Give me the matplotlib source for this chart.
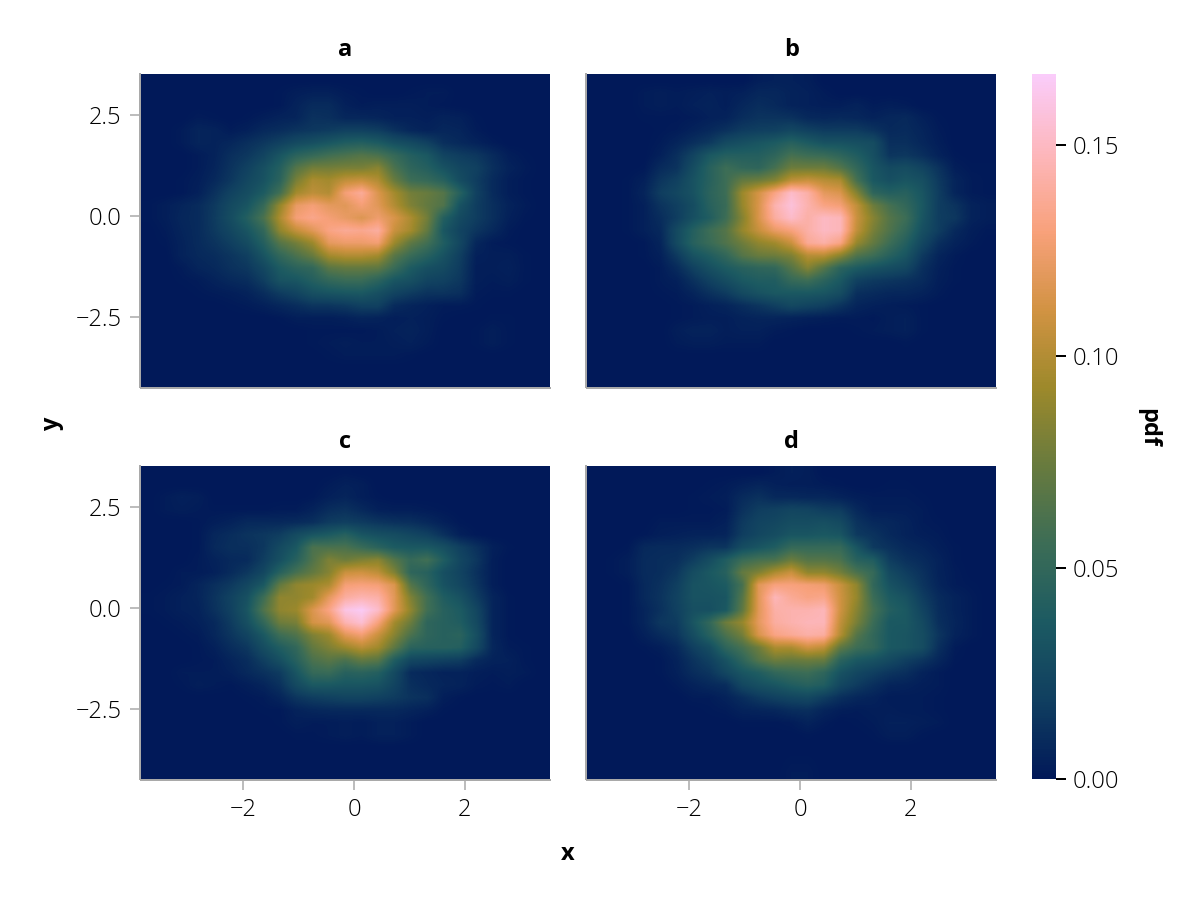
import matplotlib
matplotlib.use("Agg")
import matplotlib.pyplot as plt
import numpy as np
from matplotlib.colors import LinearSegmentedColormap, Normalize
from matplotlib.cm import ScalarMappable

# density, in units of 0.001, top row first
panel_a = [
    [0,0,0,0,0,0,0,0,0,0,0,0,0,0,0,0,0,0,0,0,0,0,0,0,0],
    [0,0,0,0,0,0,0,0,1,3,4,4,2,1,0,0,1,2,2,0,0,0,0,0,0],
    [0,0,0,0,0,0,0,0,1,5,9,9,4,2,3,3,3,2,1,0,0,0,0,0,0],
    [0,0,0,2,1,0,1,3,5,6,12,11,7,7,6,4,4,3,5,4,1,0,0,0,0],
    [0,0,2,6,5,2,4,8,10,13,15,17,20,20,18,12,7,5,7,6,2,0,0,0,0],
    [0,0,2,6,5,7,11,15,20,26,30,35,40,42,38,30,26,20,11,8,5,2,0,0,0],
    [0,0,0,2,5,11,15,22,34,46,52,58,62,66,62,52,42,36,22,18,15,9,3,1,0],
    [0,0,0,2,6,13,20,30,42,66,78,78,80,80,86,62,48,42,32,24,20,11,5,2,0],
    [0,0,1,3,8,15,24,32,46,80,98,95,105,108,100,74,56,52,44,28,18,9,3,1,0],
    [0,0,1,4,12,21,28,38,58,95,104,100,128,138,115,95,78,74,66,44,20,9,3,1,0],
    [1,3,6,9,16,26,34,52,90,122,128,120,118,128,118,100,82,72,64,32,18,11,5,2,0],
    [1,3,7,9,17,28,42,62,98,128,134,128,122,116,125,114,98,78,42,26,18,11,4,1,0],
    [0,2,6,9,16,24,34,50,88,106,118,132,137,135,140,108,95,72,35,22,14,8,2,0,0],
    [0,1,5,9,13,19,27,42,66,78,92,120,124,124,127,92,70,58,40,24,7,2,1,0,0],
    [0,0,5,8,10,14,19,33,50,62,74,95,100,100,95,68,54,44,32,19,4,3,3,1,0],
    [0,0,2,6,8,12,15,24,38,46,50,68,72,72,70,54,38,30,26,17,3,3,4,1,0],
    [0,0,1,2,5,8,10,18,32,34,42,50,54,54,46,34,30,22,20,15,3,2,3,1,0],
    [0,0,0,1,2,3,5,10,17,22,30,33,35,36,30,22,17,13,13,11,2,1,1,0,0],
    [0,0,0,0,0,1,2,4,7,10,14,14,16,20,20,9,6,4,2,2,1,0,0,0,0],
    [0,0,0,0,0,0,0,0,1,3,3,3,4,6,5,3,4,3,1,0,0,1,1,0,0],
    [0,0,0,0,0,0,0,0,0,0,1,1,1,1,2,4,5,3,0,0,1,3,1,0,0],
    [0,0,0,0,0,0,0,0,0,0,1,2,3,2,2,3,4,2,0,0,1,3,1,0,0],
    [0,0,0,0,0,0,0,0,0,0,0,1,2,2,2,2,1,0,0,0,0,0,0,0,0],
    [0,0,0,0,0,0,0,0,0,0,0,0,0,0,0,0,0,0,0,0,0,0,0,0,0],
    [0,0,0,0,0,0,0,0,0,0,0,0,0,0,0,0,0,0,0,0,0,0,0,0,0],
]

panel_b = [
    [0,0,0,0,0,0,0,0,0,0,3,4,4,3,0,0,0,0,0,0,0,0,0,0,0],
    [0,0,0,2,3,2,3,4,3,4,7,7,5,4,2,0,0,0,0,0,0,0,0,0,0],
    [0,0,0,2,3,2,4,5,3,7,10,8,5,4,3,3,5,2,3,2,0,0,0,0,0],
    [0,0,0,1,1,1,2,4,5,10,13,13,12,8,7,8,7,5,7,8,4,1,0,0,0],
    [0,0,0,0,1,2,5,8,12,17,19,20,24,20,17,17,17,13,8,9,6,2,0,0,0],
    [0,0,0,0,2,6,11,16,26,30,34,38,44,38,32,32,30,28,11,11,7,3,0,0,0],
    [0,0,0,0,4,11,22,36,42,42,42,48,60,56,54,48,40,30,14,15,11,5,1,0,0],
    [0,0,0,1,9,13,28,44,56,50,48,60,76,76,76,66,50,34,26,28,22,13,3,1,1],
    [0,0,1,4,14,20,32,44,56,72,76,84,104,108,102,98,60,36,30,34,30,16,6,2,1],
    [0,0,1,6,18,24,32,46,56,92,112,132,152,142,120,115,84,48,42,44,34,18,6,2,1],
    [0,0,1,4,13,19,28,44,54,90,114,144,157,144,132,128,105,76,60,50,36,18,13,5,3],
    [0,0,1,4,10,18,30,40,56,84,114,140,152,142,150,147,108,85,66,56,34,18,15,5,3],
    [0,0,1,4,8,26,42,56,66,90,107,122,130,142,150,147,105,80,64,50,30,18,8,3,1],
    [0,0,0,1,6,26,44,54,64,76,88,94,108,137,142,132,90,72,56,42,24,11,5,2,0],
    [0,0,0,1,4,16,32,40,50,66,74,76,82,102,102,86,64,56,44,34,16,6,2,0,0],
    [0,0,0,0,2,9,20,30,38,44,48,50,66,84,66,46,38,32,28,24,11,4,1,0,0],
    [0,0,0,0,2,4,12,20,28,36,40,40,52,56,46,36,20,16,14,12,9,3,1,0,0],
    [0,0,0,0,1,2,6,12,17,26,32,36,36,36,34,28,11,9,7,7,5,2,0,0,0],
    [0,0,0,0,0,1,2,4,6,10,14,19,25,22,19,13,6,4,3,2,1,0,0,0,0],
    [0,0,0,0,0,1,2,3,3,5,6,6,5,4,3,2,2,1,3,4,1,0,0,0,0],
    [0,0,0,0,0,3,5,5,3,4,4,2,1,0,0,0,1,2,3,4,1,0,0,0,0],
    [0,0,0,0,0,2,3,3,2,2,2,0,0,0,0,0,0,0,0,1,0,0,0,0,0],
    [0,0,0,0,0,0,0,0,0,0,0,0,0,0,0,0,0,0,0,0,0,0,0,0,0],
    [0,0,0,0,0,0,0,0,0,0,0,0,0,0,0,0,0,0,0,0,0,0,0,0,0],
    [0,0,0,0,0,0,0,0,0,0,0,0,0,0,0,0,0,0,0,0,0,0,0,0,0],
]

panel_c = [
    [0,0,0,0,0,0,0,0,0,0,0,0,1,0,0,0,0,0,0,0,0,0,0,0,0],
    [0,0,0,0,0,0,0,0,0,0,0,2,4,3,0,0,0,0,0,0,0,0,0,0,0],
    [0,2,4,3,0,0,0,0,0,0,1,4,6,3,1,0,0,0,0,0,0,0,0,0,0],
    [0,2,3,2,1,1,1,1,2,2,5,10,12,8,4,3,3,2,1,0,0,0,0,0,0],
    [0,0,0,1,3,5,8,8,8,9,11,17,19,17,14,12,11,8,4,1,0,0,0,0,0],
    [0,0,0,1,7,10,13,15,18,27,34,38,44,34,30,28,24,20,12,4,1,0,0,0,0],
    [0,0,0,1,8,11,11,15,26,36,62,62,62,54,46,38,36,36,30,20,12,4,1,0,0],
    [0,0,0,2,5,8,9,18,30,44,64,82,76,82,86,66,52,58,40,24,15,3,0,0,0],
    [0,0,2,2,4,9,15,24,44,60,72,84,108,110,104,82,48,44,30,22,12,3,0,0,0],
    [0,1,2,6,11,16,24,36,72,88,92,98,128,130,128,115,66,48,32,24,14,3,0,0,0],
    [1,2,4,6,13,21,31,56,88,88,94,120,140,145,142,118,82,58,40,32,18,6,1,0,0],
    [1,2,4,5,12,20,34,64,88,92,115,132,160,165,152,118,88,58,44,38,24,6,1,0,0],
    [0,1,2,4,8,17,30,50,76,80,112,118,145,155,130,95,75,48,44,40,26,6,1,0,0],
    [0,0,1,2,7,14,22,36,56,64,82,92,118,127,108,85,62,48,44,46,30,6,1,0,0],
    [0,0,0,1,4,10,15,28,40,50,72,82,92,102,94,70,46,44,44,42,26,7,2,1,0],
    [0,0,0,1,2,6,10,19,30,44,62,68,62,72,68,40,24,22,20,18,9,5,4,1,0],
    [0,0,2,2,2,4,8,12,17,34,52,54,44,46,42,26,9,7,5,5,3,2,3,2,0],
    [0,0,1,3,2,1,3,6,12,26,36,36,34,34,32,22,11,8,6,5,2,1,2,0,0],
    [0,0,0,0,0,0,1,2,6,14,18,20,22,22,20,17,13,11,3,1,0,0,0,0,0],
    [0,0,0,0,0,0,0,1,1,5,7,8,8,8,8,8,6,4,1,0,0,0,0,0,0],
    [0,0,0,0,0,0,0,0,1,3,2,2,3,2,4,4,2,0,0,0,0,0,0,0,0],
    [0,0,0,0,0,0,0,0,0,1,1,2,3,2,4,4,2,0,0,0,0,0,0,0,0],
    [0,0,0,0,0,0,0,0,0,0,0,0,0,0,0,0,0,0,0,0,0,0,0,0,0],
    [0,0,0,0,0,0,0,0,0,0,0,0,0,0,0,0,0,0,0,0,0,0,0,0,0],
    [0,0,0,0,0,0,0,0,0,0,0,0,0,0,0,0,0,0,0,0,0,0,0,0,0],
]

panel_d = [
    [0,0,0,0,0,0,0,0,0,0,0,2,4,3,0,0,0,0,0,0,0,0,0,0,0],
    [0,0,0,0,0,0,0,1,2,4,6,4,3,3,2,1,0,0,1,1,0,0,0,0,0],
    [0,0,0,0,0,0,1,2,3,9,12,8,8,7,7,5,3,2,2,2,1,0,0,0,0],
    [0,0,0,0,0,0,1,1,2,12,18,20,23,22,18,17,8,3,3,3,2,0,0,0,0],
    [0,0,0,0,2,2,2,2,4,16,22,24,28,28,30,26,13,8,7,5,2,1,0,0,0],
    [0,0,0,1,3,4,5,5,6,18,24,28,34,34,36,34,16,13,8,5,3,2,0,0,0],
    [0,0,1,8,9,9,11,14,14,28,34,40,52,52,52,52,34,16,12,8,6,3,1,0,0],
    [0,1,3,9,10,11,18,28,40,54,60,62,75,66,66,62,44,40,18,12,9,5,1,0,0],
    [0,1,3,9,10,15,28,36,44,72,82,98,108,88,88,78,62,52,26,18,12,5,2,0,0],
    [0,0,1,8,12,19,32,34,38,60,118,130,130,128,125,108,88,50,32,24,14,6,2,1,0],
    [0,0,1,8,13,21,32,32,34,66,118,147,137,132,134,110,90,55,38,32,18,9,5,2,0],
    [0,0,1,6,12,20,30,30,36,70,118,142,144,144,147,110,85,60,42,36,22,10,5,2,0],
    [0,0,1,6,15,17,34,50,76,90,120,140,144,147,147,105,80,55,36,36,26,11,6,2,0],
    [0,0,0,4,9,14,28,44,62,78,114,132,137,142,140,100,66,50,36,34,28,14,5,2,0],
    [0,0,0,1,3,8,19,28,48,60,76,98,98,110,104,70,56,50,36,34,28,11,2,0,0],
    [0,0,0,0,1,5,13,20,32,48,66,76,74,76,74,46,36,32,26,19,14,7,1,0,0],
    [0,0,0,0,1,4,10,14,24,34,40,50,54,56,48,32,24,19,14,11,5,2,0,0,0],
    [0,0,0,0,0,2,5,8,10,24,30,34,40,44,40,24,17,11,6,5,3,2,0,0,0],
    [0,0,0,0,0,0,2,2,5,10,16,20,23,25,18,11,7,5,2,2,2,1,0,0,0],
    [0,0,0,0,0,0,0,1,2,5,6,7,10,11,6,3,2,3,3,2,2,1,0,0,0],
    [0,0,0,0,0,0,0,0,0,1,1,1,2,5,2,0,1,2,4,4,3,2,0,0,0],
    [0,0,0,0,0,0,0,0,0,0,0,0,0,1,0,0,0,1,3,3,1,0,0,0,0],
    [0,0,0,0,0,0,0,0,0,0,0,0,0,0,0,0,0,0,0,0,0,0,0,0,0],
    [0,0,0,0,0,0,0,0,0,0,0,0,1,1,0,0,0,0,0,0,0,0,0,0,0],
    [0,0,0,0,0,0,0,0,0,0,0,0,2,2,0,0,0,0,0,0,0,0,0,0,0],
]

titles = ["a", "b", "c", "d"]
xticks = [-2, 0, 2]
yticks = [-2.5, 0.0, 2.5]
xticklabels = ["−2", "0", "2"]
yticklabels = ["−2.5", "0.0", "2.5"]
cbar_ticks = [0.0, 0.05, 0.10, 0.15]
cbar_ticklabels = ["0.00", "0.05", "0.10", "0.15"]
vmax = 0.1667

batlow = ["#011959", "#103F60", "#1C5A62", "#3C6D56", "#687B3E",
          "#9D892B", "#D29343", "#F8A17B", "#FDB7BC", "#FACCFA"]
cmap = LinearSegmentedColormap.from_list("batlow", batlow)
norm = Normalize(0, vmax)

W, H = 1200, 900
FONT = "Open Sans"
GREY = "#a9a9a9"
TICK_SIZE = 17
LABEL_SIZE = 17


def px_axes(fig, left, top, right, bottom):
    return fig.add_axes([left / W, 1 - bottom / H, (right - left) / W, (bottom - top) / H])


fig = plt.figure(figsize=(12, 9), dpi=100)

panels = [panel_a, panel_b, panel_c, panel_d]
boxes = [(141, 74, 550, 387), (587, 74, 996, 387), (141, 466, 550, 779), (587, 466, 996, 779)]
xlim = (-3.855, 3.547)
ylim = (-4.226, 3.526)

for i, (data, box) in enumerate(zip(panels, boxes)):
    ax = px_axes(fig, *box)
    z = np.array(data) / 1000
    ax.imshow(z, cmap=cmap, norm=norm, extent=[xlim[0], xlim[1], ylim[0], ylim[1]],
              origin="upper", aspect="auto", interpolation="bilinear")
    ax.set_xlim(xlim)
    ax.set_ylim(ylim)
    for s in ["top", "right"]:
        ax.spines[s].set_visible(False)
    for s in ["left", "bottom"]:
        ax.spines[s].set_color(GREY)
        ax.spines[s].set_linewidth(1.44)
        ax.spines[s].set_position(("outward", 0.72))
    ax.set_xticks(xticks)
    ax.set_yticks(yticks)
    ax.set_xticklabels(xticklabels if i >= 2 else [], fontfamily=FONT, fontweight="light", fontsize=TICK_SIZE)
    ax.set_yticklabels(yticklabels if i % 2 == 0 else [], fontfamily=FONT, fontweight="light", fontsize=TICK_SIZE)
    ax.tick_params(axis="x", length=7.2 if i >= 2 else 0, width=1.44, color="#bdbdbd", pad=6)
    ax.tick_params(axis="y", length=7.2 if i % 2 == 0 else 0, width=1.44, color="#bdbdbd", pad=6)
    ax.set_title(titles[i], fontfamily=FONT, fontweight="bold", fontsize=LABEL_SIZE, pad=13)

# colorbar
cax = px_axes(fig, 1032, 74, 1056, 779)
cb = fig.colorbar(ScalarMappable(norm=norm, cmap=cmap), cax=cax)
cb.outline.set_visible(False)
cb.set_ticks(cbar_ticks)
cb.set_ticklabels(cbar_ticklabels, fontfamily=FONT, fontweight="light", fontsize=TICK_SIZE)
cb.ax.tick_params(length=7.2, width=1.44, color="black", pad=5)

fig.text(568 / W, 1 - 854 / H, "x", ha="center", va="center", fontfamily=FONT, fontweight="bold", fontsize=LABEL_SIZE)
fig.text(52 / W, 1 - 424 / H, "y", ha="center", va="center", rotation=90, fontfamily=FONT, fontweight="bold", fontsize=LABEL_SIZE)
fig.text(1148 / W, 1 - 428 / H, "pdf", ha="center", va="center", rotation=-90, fontfamily=FONT, fontweight="bold", fontsize=LABEL_SIZE)

fig.savefig("out.png", dpi=100)
